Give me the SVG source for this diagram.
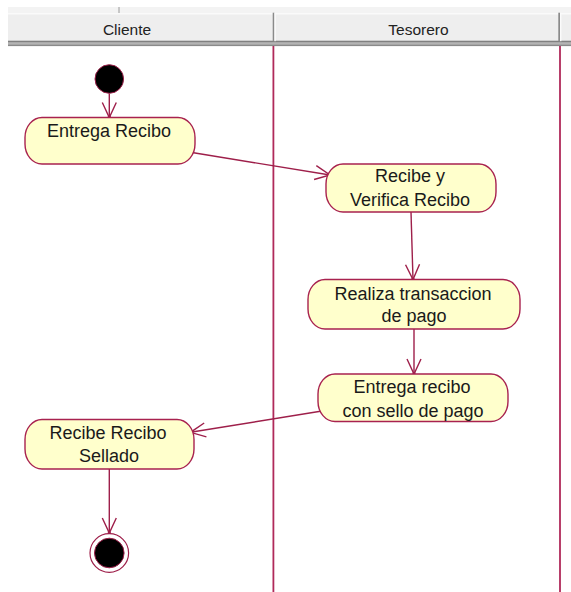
<svg xmlns="http://www.w3.org/2000/svg" width="571" height="592" viewBox="0 0 571 592">
  <style>
    .lane { stroke: #b02a5a; stroke-width: 1.8; fill: none; }
    .act rect { fill: #ffffcc; stroke: #a8224f; stroke-width: 1.4; }
    .act text { font-family: "Liberation Sans", Arial, sans-serif; font-size: 18px; fill: #1a1a1a; text-anchor: middle; }
    .hdr { font-family: "Liberation Sans", Arial, sans-serif; font-size: 15.5px; fill: #222; text-anchor: middle; }
    .flow { stroke: #9e1f4a; stroke-width: 1.4; fill: none; marker-end: url(#open); }
  </style>
  <defs>
    <marker id="open" viewBox="-17 -9 19 18" refX="0" refY="0" markerWidth="19" markerHeight="18" markerUnits="userSpaceOnUse" orient="auto">
      <path d="M -15 -7 L 0 0 L -15 7" fill="none" stroke="#9e1f4a" stroke-width="1.4"/>
      <rect x="-1.5" y="-1.5" width="3" height="3" fill="#9e1f4a"/>
    </marker>
  </defs>

  <rect width="571" height="592" fill="#ffffff"/>

  <!-- swimlane header -->
  <g id="header">
    <rect x="8" y="7" width="563" height="6" fill="#f3f3f3"/>
    <line x1="119" y1="7" x2="119" y2="13" stroke="#9a9a9a" stroke-width="1"/>
    <rect x="8" y="13" width="563" height="28" fill="#eeeeee"/>
    <line x1="8" y1="13.8" x2="571" y2="13.8" stroke="#fafafa" stroke-width="1.4"/>
    <rect x="8" y="40.7" width="563" height="2" fill="#808080"/>
    <rect x="8" y="42.7" width="563" height="1.6" fill="#b4b4b4"/>
    <rect x="8" y="44.3" width="563" height="1.8" fill="#8a8a8a"/>
    <rect x="272.7" y="12.7" width="1.7" height="28.5" fill="#8a8a8a"/>
    <rect x="274.4" y="12.7" width="1.4" height="28.5" fill="#fbfbfb"/>
    <rect x="558.3" y="12.7" width="1.7" height="28.5" fill="#8a8a8a"/>
    <rect x="560" y="12.7" width="1.4" height="28.5" fill="#fbfbfb"/>
    <text class="hdr" x="127" y="35">Cliente</text>
    <text class="hdr" x="418.5" y="35">Tesorero</text>
  </g>

  <!-- lane separators -->
  <g id="lanes">
    <line class="lane" x1="273.4" y1="46" x2="273.4" y2="592"/>
    <line class="lane" x1="560" y1="46" x2="560" y2="592"/>
  </g>

  <!-- control flows -->
  <g id="connectors">
    <line class="flow" x1="109.3" y1="93.5" x2="109.3" y2="117.5"/>
    <line class="flow" x1="192" y1="152.5" x2="330" y2="175"/>
    <line class="flow" x1="411" y1="212" x2="413" y2="279.5"/>
    <line class="flow" x1="414" y1="329" x2="414" y2="374"/>
    <line class="flow" x1="322" y1="411" x2="190.5" y2="432.3"/>
    <line class="flow" x1="109.3" y1="469" x2="109.3" y2="533"/>
  </g>

  <g id="start">
    <circle cx="109.3" cy="79" r="14.3" fill="#000000" stroke="#9e1f4a" stroke-width="1"/>
  </g>

  <g id="entrega-recibo" class="act">
    <rect x="25" y="117.5" width="170" height="46.5" rx="17" ry="20"/>
    <text x="109" y="136.7">Entrega Recibo</text>
  </g>

  <g id="recibe-verifica" class="act">
    <rect x="326" y="164" width="170" height="48" rx="17" ry="20"/>
    <text x="410" y="182.3">Recibe y</text>
    <text x="410" y="205.7">Verifica Recibo</text>
  </g>

  <g id="realiza-transaccion" class="act">
    <rect x="308" y="279.5" width="212" height="49.5" rx="17" ry="20"/>
    <text x="413" y="300">Realiza transaccion</text>
    <text x="414" y="322.3">de pago</text>
  </g>

  <g id="entrega-sellado" class="act">
    <rect x="318" y="374" width="190" height="47.5" rx="17" ry="20"/>
    <text x="412" y="393.3">Entrega recibo</text>
    <text x="413" y="416.7">con sello de pago</text>
  </g>

  <g id="recibe-sellado" class="act">
    <rect x="25" y="419.5" width="169" height="49.5" rx="17" ry="20"/>
    <text x="108" y="439.3">Recibe Recibo</text>
    <text x="109" y="461.7">Sellado</text>
  </g>

  <g id="end">
    <circle cx="109.3" cy="553" r="19.3" fill="#ffffff" stroke="#9e1f4a" stroke-width="1.2"/>
    <circle cx="109.3" cy="553" r="14.8" fill="#000000" stroke="#9e1f4a" stroke-width="1"/>
  </g>
</svg>
